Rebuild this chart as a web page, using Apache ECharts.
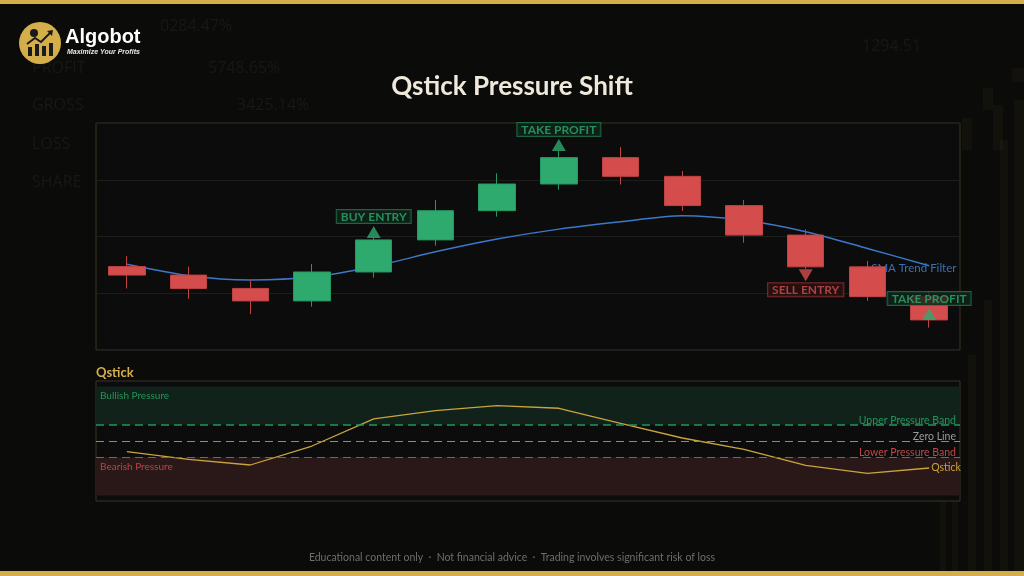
<!DOCTYPE html>
<html>
<head>
<meta charset="utf-8">
<script src="https://cdn.jsdelivr.net/npm/echarts@6/dist/echarts.min.js"></script>
<style>
html,body{margin:0;padding:0;background:#0b0b0a;}
#c{width:1024px;height:576px;}
</style>
</head>
<body>
<div id="c"></div>
<script>
// ---- data ----
const categories = ['1','2','3','4','5','6','7','8','9','10','11','12','13','14'];
const opens  = [98.94, 98.64, 98.17, 97.73, 98.75, 99.88, 100.91, 101.85, 102.78, 102.12, 101.09, 100.05, 98.93, 97.88];
const closes = [98.64, 98.17, 97.73, 98.75, 99.88, 100.91, 101.85, 102.78, 102.12, 101.09, 100.05, 98.93, 97.88, 97.06];
const lows   = [98.17, 97.81, 97.26, 97.53, 98.55, 99.68, 100.70, 101.65, 101.83, 100.90, 99.78, 98.85, 97.73, 96.79];
const highs  = [99.31, 98.94, 98.46, 99.03, 99.95, 101.29, 102.23, 103.01, 103.15, 102.31, 101.29, 100.25, 99.14, 98.08];
const sma    = [99.02, 98.62, 98.47, 98.57, 98.94, 99.46, 99.91, 100.26, 100.52, 100.73, 100.57, 100.17, 99.58, 98.97];
const qstick = [-0.196, -0.336, -0.44, -0.092, 0.404, 0.556, 0.648, 0.60, 0.325, 0.055, -0.152, -0.446, -0.593, -0.495];
const priceTicks = [96, 98, 100, 102, 104];
const upperBand = 0.3, lowerBand = -0.3, zeroLevel = 0;
const bullZoneTop = 1.0, bearZoneBottom = -1.0;
const signalIndex = [4, 7, 11, 13];
const signalKind  = ['long', 'long', 'short', 'cover'];
const signalText  = ['BUY ENTRY', 'TAKE PROFIT', 'SELL ENTRY', 'TAKE PROFIT'];

// ---- styles ----
const GREEN = '#2eaa6e', RED = '#d44c4c', GOLD = '#d4ae4a', BLUE = '#3b78c9';
const FONT = 'Lato, "Noto Sans", sans-serif';

const candleData = categories.map((c, i) => [opens[i], closes[i], lows[i], highs[i]]);

const downTri = 'path://M0,0L14,0L7,12Z';
const signalData = signalIndex.map((idx, k) => {
  const kind = signalKind[k];
  const isShort = kind === 'short';
  const price = kind === 'long' ? highs[idx] : (isShort ? lows[idx] : closes[idx]);
  const col = isShort ? RED : GREEN;
  return {
    value: [idx, price],
    symbol: isShort ? downTri : 'triangle',
    symbolSize: [14, 12],
    symbolOffset: [0, isShort ? 6 : -6],
    itemStyle: { color: col },
    label: {
      show: true,
      formatter: signalText[k],
      position: isShort ? 'bottom' : 'top',
      distance: isShort ? 2 : 3,
      color: col,
      fontFamily: FONT,
      fontWeight: 'bold',
      fontSize: 12,
      backgroundColor: isShort ? '#2a1212' : '#0e2419',
      borderColor: isShort ? '#8e3232' : '#1f7a4c',
      borderWidth: 1,
      padding: [1, 4, 0, 4]
    }
  };
});

const chart = echarts.init(document.getElementById('c'));

const bgTexts = [
  ['0284.47%', 160, 28], ['PROFIT', 32, 70], ['5748.65%', 208, 70], ['GROSS', 32, 107], ['3425.14%', 237, 107],
  ['LOSS', 32, 146], ['SHARE', 32, 184], ['1294.51', 862, 48]
].map(t => ({
  type: 'text', left: t[1], top: t[2] - 10, silent: true, z: -10,
  style: { text: t[0], fill: 'rgba(255,255,255,0.05)', font: '16px "Open Sans", sans-serif' }
}));

const bgBars = [
  [962, 118, 10, 32], [983, 88, 10, 22], [993, 105, 10, 45], [1012, 68, 12, 14],
  [968, 355, 8, 220], [984, 300, 8, 275], [1000, 140, 8, 435], [1014, 100, 10, 475],
  [940, 470, 6, 105], [952, 430, 6, 145]
].map(b => ({
  type: 'rect', shape: { x: b[0], y: b[1], width: b[2], height: b[3] }, silent: true, z: -10,
  style: { fill: 'rgba(212,174,74,0.04)' }
}));

chart.setOption({
  backgroundColor: '#0b0b0a',
  animation: false,
  graphic: [
    ...bgTexts,
    ...bgBars,
    { type: 'rect', shape: { x: 0, y: 0, width: 1024, height: 4 }, style: { fill: GOLD }, z: 10 },
    { type: 'rect', shape: { x: 0, y: 571, width: 1024, height: 5 }, style: { fill: GOLD }, z: 10 },
    // logo
    { type: 'circle', shape: { cx: 40, cy: 43, r: 21 }, style: { fill: GOLD }, z: 10 },
    { type: 'rect', shape: { x: 28, y: 47, width: 4, height: 9 }, style: { fill: '#1a1a1a' }, z: 11 },
    { type: 'rect', shape: { x: 35, y: 44, width: 4, height: 12 }, style: { fill: '#1a1a1a' }, z: 11 },
    { type: 'rect', shape: { x: 42, y: 46, width: 4, height: 10 }, style: { fill: '#1a1a1a' }, z: 11 },
    { type: 'rect', shape: { x: 49, y: 43, width: 4, height: 13 }, style: { fill: '#1a1a1a' }, z: 11 },
    { type: 'polyline', shape: { points: [[27, 44], [35, 38], [41, 42], [51, 32]] }, style: { stroke: '#1a1a1a', lineWidth: 2, fill: null }, z: 11 },
    { type: 'polygon', shape: { points: [[47, 31], [53, 30], [52, 36]] }, style: { fill: '#1a1a1a' }, z: 11 },
    { type: 'circle', shape: { cx: 34, cy: 33, r: 4 }, style: { fill: '#1a1a1a' }, z: 11 },
    { type: 'text', left: 65, top: 27, z: 11, style: { text: 'Algobot', fill: '#ffffff', font: 'bold 20px "Liberation Sans", Arial, sans-serif' } },
    { type: 'text', left: 67, top: 49, z: 11, style: { text: 'Maximize Your Profits', fill: '#e8e8e8', font: 'italic bold 7px "Liberation Sans", sans-serif' } },
    // title
    { type: 'text', left: 'center', top: 74, z: 11, style: { text: 'Qstick Pressure Shift', fill: '#efe9dc', font: 'bold 26px ' + FONT } },
    // panel title
    { type: 'text', left: 96, top: 366, z: 11, style: { text: 'Qstick', fill: GOLD, font: 'bold 13px ' + FONT } },
    // footer
    { type: 'text', left: 'center', top: 552, z: 11, style: { text: 'Educational content only  ·  Not financial advice  ·  Trading involves significant risk of loss', fill: '#6e6e6e', font: '10.5px ' + FONT } }
  ],
  grid: [
    { left: 96, top: 123, width: 864, height: 227, show: true, backgroundColor: '#0c0c0c', borderColor: '#3a3423', borderWidth: 1 },
    { left: 96, top: 381, width: 864, height: 120, show: true, backgroundColor: '#0c0c0c', borderColor: '#3a3423', borderWidth: 1 }
  ],
  xAxis: [
    { type: 'category', data: categories, gridIndex: 0, boundaryGap: true, axisLine: { show: false }, axisTick: { show: false }, axisLabel: { show: false }, splitLine: { show: false } },
    { type: 'category', data: categories, gridIndex: 1, boundaryGap: true, axisLine: { show: false }, axisTick: { show: false }, axisLabel: { show: false }, splitLine: { show: false } }
  ],
  yAxis: [
    { type: 'value', gridIndex: 0, min: priceTicks[0], max: priceTicks[priceTicks.length - 1], interval: priceTicks[1] - priceTicks[0], axisLine: { show: false }, axisTick: { show: false }, axisLabel: { show: false }, splitLine: { show: true, lineStyle: { color: '#1d1d1b', width: 1 } } },
    { type: 'value', gridIndex: 1, min: -1.1, max: 1.1, axisLine: { show: false }, axisTick: { show: false }, axisLabel: { show: false }, splitLine: { show: false } }
  ],
  series: [
    {
      type: 'candlestick', xAxisIndex: 0, yAxisIndex: 0, data: candleData, barWidth: '60%', z: 3,
      itemStyle: { color: GREEN, color0: RED, borderColor: '#269760', borderColor0: '#c04343', borderWidth: 1 }
    },
    {
      type: 'line', xAxisIndex: 0, yAxisIndex: 0, data: sma, smooth: 0.25, symbol: 'none', z: 2,
      lineStyle: { color: BLUE, width: 1.5 },
      endLabel: { show: true, formatter: 'SMA Trend Filter', color: '#3a6fb5', fontSize: 11.5, fontFamily: FONT, distance: 0, offset: [-58, 3] }
    },
    {
      type: 'scatter', xAxisIndex: 0, yAxisIndex: 0, data: signalData, z: 5
    },
    {
      type: 'line', xAxisIndex: 1, yAxisIndex: 1, data: qstick, symbol: 'none', z: 4,
      lineStyle: { color: '#c9a53c', width: 1.3 },
      endLabel: { show: true, formatter: 'Qstick', color: '#c9a53c', fontSize: 10.5, fontFamily: FONT, distance: 2 },
      markArea: {
        silent: true,
        data: [
          [{ yAxis: upperBand, itemStyle: { color: '#10221a' }, label: { show: true, formatter: 'Bullish Pressure', position: 'insideTopLeft', color: '#27925a', fontSize: 10, fontFamily: FONT, distance: 4 } }, { yAxis: bullZoneTop }],
          [{ yAxis: lowerBand, itemStyle: { color: '#2a1718' }, label: { show: true, formatter: 'Bearish Pressure', position: 'insideTopLeft', color: '#bf4444', fontSize: 10, fontFamily: FONT, distance: 4 } }, { yAxis: bearZoneBottom }]
        ]
      },
      markLine: {
        silent: true, symbol: 'none',
        data: [
          { yAxis: upperBand, lineStyle: { color: '#23955c', type: [8, 5], width: 1.5 }, label: { formatter: 'Upper Pressure Band', color: '#23955c' } },
          { yAxis: zeroLevel, lineStyle: { color: '#8a8a8a', type: [8, 5], width: 1.2 }, label: { formatter: 'Zero Line', color: '#9a9a9a' } },
          { yAxis: lowerBand, lineStyle: { color: '#bf4646', type: [8, 5], width: 1.2 }, label: { formatter: 'Lower Pressure Band', color: '#c04848' } }
        ],
        label: { show: true, position: 'insideEndTop', fontSize: 10.5, fontFamily: FONT, distance: [4, -1] }
      }
    }
  ]
});
</script>
</body>
</html>
